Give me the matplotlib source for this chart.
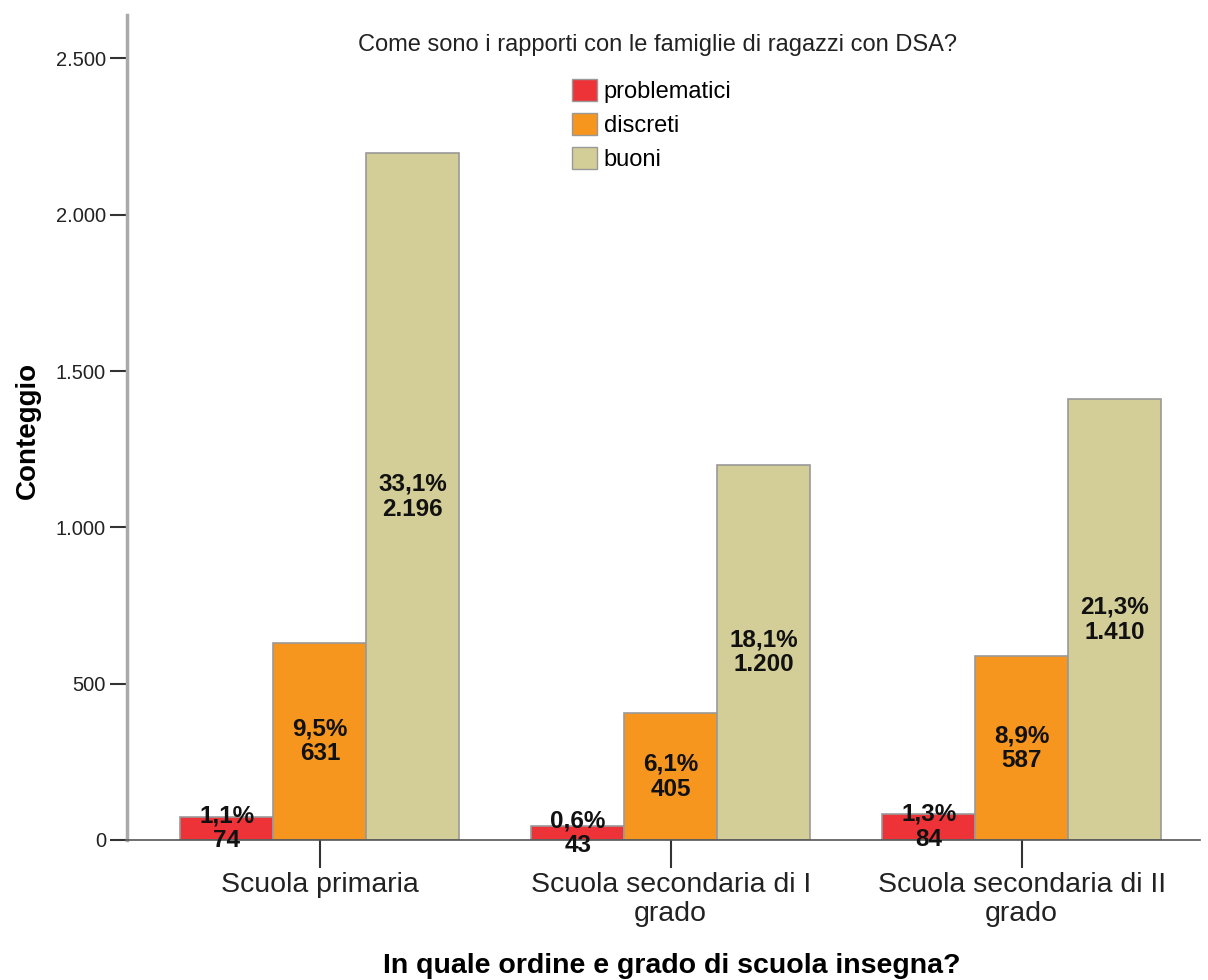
import matplotlib.pyplot as plt
import numpy as np
from matplotlib.patches import Patch

# Dati
scuole = ['Scuola primaria', 'Scuola secondaria di I\ngrado', 'Scuola secondaria di II\ngrado']
risposte = ['problematici', 'discreti', 'buoni']
problematici = [74, 43, 84]
discreti = [631, 405, 587]
buoni = [2196, 1200, 1410]
perc_problematici = ['1,1%', '0,6%', '1,3%']
perc_discreti = ['9,5%', '6,1%', '8,9%']
perc_buoni = ['33,1%', '18,1%', '21,3%']
colori = ['#EE3338', '#F6961E', '#D3CE97']
y_ticks = [0, 500, 1000, 1500, 2000, 2500]

plt.rcParams['font.family'] = ['Liberation Sans', 'DejaVu Sans']

fig = plt.figure(figsize=(12.08, 9.8), dpi=100)
ax = fig.add_axes([0.105, 0.143, 0.888, 0.842])

x = np.arange(len(scuole))
larghezza = 0.265
serie = [problematici, discreti, buoni]
percentuali = [perc_problematici, perc_discreti, perc_buoni]

for i, (valori, perc) in enumerate(zip(serie, percentuali)):
    pos = x + (i - 1) * larghezza
    ax.bar(pos, valori, width=larghezza, color=colori[i], edgecolor='#999999', linewidth=1.2)
    # etichette al centro della barra
    for px, v, p in zip(pos, valori, perc):
        testo = p + '\n' + format(v, ',').replace(',', '.')
        ax.text(px, v / 2, testo, ha='center', va='center', fontsize=17.5,
                fontweight='bold', linespacing=1.12, color='#111111')

ax.set_xlim(-0.55, 2.507)
ax.set_ylim(0, 2640)
ax.set_xticks(x)
ax.set_xticklabels(scuole, fontsize=20.5, linespacing=1.15, color='#222222')
ax.set_yticks(y_ticks)
ax.set_yticklabels([format(t, ',').replace(',', '.') for t in y_ticks], fontsize=14.5,
                   color='#222222')
ax.tick_params(axis='x', length=20, width=1.5, color='#333333', pad=3)
ax.tick_params(axis='y', length=12, width=1.5, color='#333333', pad=3)

for s in ['top', 'right']:
    ax.spines[s].set_visible(False)
ax.spines['left'].set_color('#AAAAAA')
ax.spines['left'].set_linewidth(2.5)
ax.spines['bottom'].set_color('#555555')
ax.spines['bottom'].set_linewidth(1.2)

fig.text(0.023, 0.561, 'Conteggio', rotation=90, ha='center', va='center',
         fontsize=20, fontweight='bold')
fig.text(0.556, 0.0143, 'In quale ordine e grado di scuola insegna?', ha='center',
         va='center', fontsize=20.5, fontweight='bold')

# Titolo e legenda
fig.text(0.544, 0.954, 'Come sono i rapporti con le famiglie di ragazzi con DSA?',
         ha='center', va='center', fontsize=17, color='#222222')
maniglie = [Patch(facecolor=c, edgecolor='#999999') for c in colori]
fig.legend(maniglie, risposte, loc='upper left', bbox_to_anchor=(0.4735, 0.919),
           frameon=False, prop={'size': 17},
           handlelength=1.05, handleheight=1.05, handletextpad=0.3, labelspacing=0.42,
           borderaxespad=0, borderpad=0)

fig.savefig('out.png', dpi=100)
